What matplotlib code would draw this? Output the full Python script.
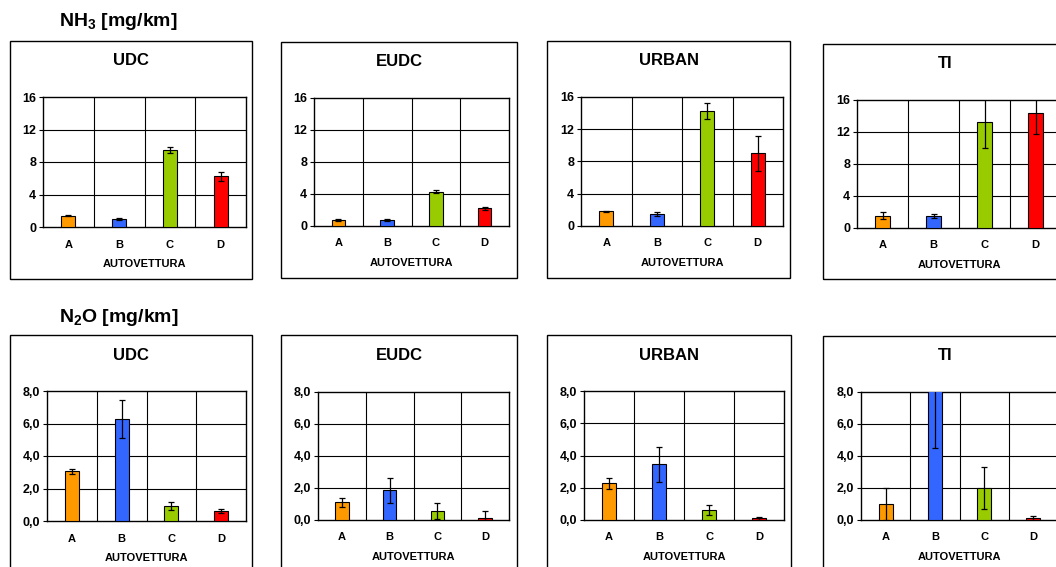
import matplotlib
matplotlib.use("Agg")
import matplotlib.pyplot as plt
from matplotlib.patches import Rectangle

plt.rcParams['font.family'] = ['Liberation Sans', 'DejaVu Sans']
plt.rcParams['mathtext.fontset'] = 'custom'
plt.rcParams['mathtext.rm'] = 'Liberation Sans:bold'
plt.rcParams['mathtext.it'] = 'Liberation Sans:bold'
plt.rcParams['mathtext.bf'] = 'Liberation Sans:bold'
plt.rcParams['mathtext.default'] = 'regular'

categories = ['A', 'B', 'C', 'D']
bar_colors = ['#FF9900', '#3366FF', '#99CC00', '#FF0000']
cycles = ['UDC', 'EUDC', 'URBAN', 'TI']

nh3_udc = [1.4, 1.0, 9.45, 6.25]
nh3_udc_err = [0.1, 0.15, 0.4, 0.55]
nh3_eudc = [0.75, 0.75, 4.3, 2.2]
nh3_eudc_err = [0.1, 0.12, 0.15, 0.15]
nh3_urban = [1.8, 1.5, 14.25, 9.0]
nh3_urban_err = [0.08, 0.2, 0.95, 2.15]
nh3_ti = [1.55, 1.55, 13.25, 14.4]
nh3_ti_err = [0.4, 0.25, 3.25, 2.7]

n2o_udc = [3.05, 6.28, 0.95, 0.62]
n2o_udc_err = [0.18, 1.18, 0.25, 0.1]
n2o_eudc = [1.1, 1.85, 0.58, 0.1]
n2o_eudc_err = [0.29, 0.8, 0.5, 0.48]
n2o_urban = [2.27, 3.45, 0.62, 0.1]
n2o_urban_err = [0.35, 1.1, 0.3, 0.07]
n2o_ti = [0.98, 8.6, 2.0, 0.1]
n2o_ti_err = [1.0, 4.1, 1.33, 0.15]

nh3_ticks = [0, 4, 8, 12, 16]
nh3_ticklabels = ['0', '4', '8', '12', '16']
n2o_ticks = [0, 2, 4, 6, 8]
n2o_ticklabels = ['0,0', '2,0', '4,0', '6,0', '8,0']

W, H = 1056, 567
fig = plt.figure(figsize=(W / 100, H / 100), dpi=100)


def fig_rect(x0, y0, x1, y1):
    return [x0 / W, 1 - y1 / H, (x1 - x0) / W, (y1 - y0) / H]


def frame(x0, y0, x1, y1):
    fig.patches.append(Rectangle((x0 / W, 1 - y1 / H), (x1 - x0) / W, (y1 - y0) / H,
                                 transform=fig.transFigure, fill=False,
                                 edgecolor='black', linewidth=1.0))


def panel(plot_px, frame_px, title, values, errs, ticks, ticklabels):
    frame(*frame_px)
    ax = fig.add_axes(fig_rect(*plot_px))
    x = list(range(len(categories)))
    ax.bar(x, values, width=0.28, color=bar_colors, edgecolor='black',
           linewidth=0.8, zorder=3)
    ax.errorbar(x, values, yerr=errs, fmt='none', ecolor='black',
                elinewidth=0.9, capsize=2.5, capthick=0.9, zorder=4)
    ax.set_xlim(-0.5, 3.5)
    ax.set_ylim(ticks[0], ticks[-1])
    ax.set_yticks(ticks)
    ax.set_yticklabels(ticklabels, fontsize=9, fontweight='bold')
    ax.set_xticks(x)
    ax.set_xticklabels(categories, fontsize=8, fontweight='bold')
    ax.tick_params(axis='x', length=0, pad=9)
    ax.tick_params(axis='y', length=3, width=0.8, pad=2)
    for yv in ticks[1:-1]:
        ax.axhline(yv, color='black', linewidth=0.8, zorder=1)
    for xv in [0.5, 1.5, 2.5]:
        ax.axvline(xv, color='black', linewidth=0.8, zorder=1)
    for s in ax.spines.values():
        s.set_linewidth(1.0)
        s.set_color('black')
    ax.set_xlabel('AUTOVETTURA', fontsize=8, fontweight='bold', labelpad=7)
    fx0, fy0, fx1, fy1 = frame_px
    cx = (fx0 + fx1) / 2
    fig.text(cx / W, 1 - (fy0 + 20) / H, title, ha='center', va='center',
             fontsize=12, fontweight='bold')
    return ax


# Top row: NH3
top_plots = [(43, 97, 246, 227), (314, 98, 509, 226), (581, 97, 783, 226), (857, 100, 1061, 228)]
top_frames = [(10, 41, 252, 279), (281, 42, 517, 278), (547, 41, 790, 278), (823, 44, 1067, 279)]
top_vals = [(nh3_udc, nh3_udc_err), (nh3_eudc, nh3_eudc_err),
            (nh3_urban, nh3_urban_err), (nh3_ti, nh3_ti_err)]
for p, f, t, (v, e) in zip(top_plots, top_frames, cycles, top_vals):
    panel(p, f, t, v, e, nh3_ticks, nh3_ticklabels)

# Bottom row: N2O
bot_plots = [(47, 391, 246, 521), (318, 392, 509, 520), (584, 391, 784, 520), (861, 392, 1058, 520)]
bot_frames = [(10, 335, 252, 600), (281, 335, 517, 600), (547, 335, 791, 600), (823, 336, 1067, 600)]
bot_vals = [(n2o_udc, n2o_udc_err), (n2o_eudc, n2o_eudc_err),
            (n2o_urban, n2o_urban_err), (n2o_ti, n2o_ti_err)]
for p, f, t, (v, e) in zip(bot_plots, bot_frames, cycles, bot_vals):
    panel(p, f, t, v, e, n2o_ticks, n2o_ticklabels)

fig.text(59 / W, 1 - 21 / H, r'NH$_{3}$ [mg/km]', ha='left', va='center',
         fontsize=14, fontweight='bold')
fig.text(59 / W, 1 - 317 / H, r'N$_{2}$O [mg/km]', ha='left', va='center',
         fontsize=14, fontweight='bold')

fig.savefig('out.png', dpi=100, facecolor='white')
